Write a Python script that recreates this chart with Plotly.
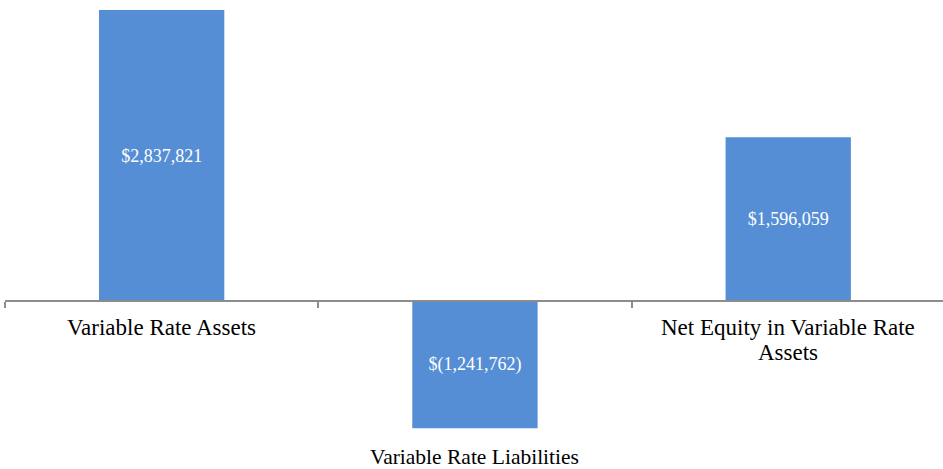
import plotly.graph_objects as go

categories = ["Variable Rate Assets", "Variable Rate Liabilities", "Net Equity in Variable Rate Assets"]
category_labels = ["Variable Rate Assets", "Variable Rate Liabilities", "Net Equity in Variable Rate<br>Assets"]
values = [2837821, -1241762, 1596059]
value_labels = ["$2,837,821", "$(1,241,762)", "$1,596,059"]

BAR_COLOR = "#558ed5"
AXIS_COLOR = "#8c8c8c"
FONT = "Liberation Serif, Times New Roman, serif"

W, H = 943, 469
ZERO_PX = 301          # vertical pixel position of the zero line
PX_PER_UNIT = 2837821 / 291.0
LINE_GAP = 25          # spacing between wrapped label lines

y_top = ZERO_PX * PX_PER_UNIT
y_bottom = -(H - ZERO_PX) * PX_PER_UNIT

fig = go.Figure(
    go.Bar(
        x=categories,
        y=values,
        text=value_labels,
        textposition="inside",
        insidetextanchor="middle",
        textangle=0,
        textfont=dict(family=FONT, size=18, color="white"),
        marker=dict(color=BAR_COLOR, line=dict(width=0)),
        width=0.4,
        hoverinfo="skip",
    )
)

# Category labels: below the axis for positive bars, below the bar for negative ones
annotations = []
for cat, lab, v in zip(categories, category_labels, values):
    for i, line in enumerate(lab.split("<br>")):
        if v >= 0:
            annotations.append(dict(x=cat, y=0, xref="x", yref="y", text=line,
                                    showarrow=False, yanchor="top",
                                    yshift=-12 - i * LINE_GAP,
                                    font=dict(family=FONT, size=23, color="black")))
        else:
            annotations.append(dict(x=cat, y=v, xref="x", yref="y", text=line,
                                    showarrow=False, yanchor="top",
                                    yshift=-15 - i * LINE_GAP,
                                    font=dict(family=FONT, size=21.5, color="black")))

fig.update_layout(
    width=W,
    height=H,
    margin=dict(l=5, r=0, t=0, b=0),
    paper_bgcolor="white",
    plot_bgcolor="white",
    showlegend=False,
    annotations=annotations,
    xaxis=dict(
        type="category",
        range=[-0.5, 2.494],
        anchor="free",
        position=(H - ZERO_PX) / H,
        showline=True,
        linecolor=AXIS_COLOR,
        linewidth=1.5,
        ticks="outside",
        tickson="boundaries",
        ticklen=6,
        tickcolor=AXIS_COLOR,
        tickwidth=1.5,
        showticklabels=False,
        showgrid=False,
        zeroline=False,
    ),
    yaxis=dict(
        range=[y_bottom, y_top],
        visible=False,
        showgrid=False,
        zeroline=False,
    ),
)

fig.write_html("out.html")
